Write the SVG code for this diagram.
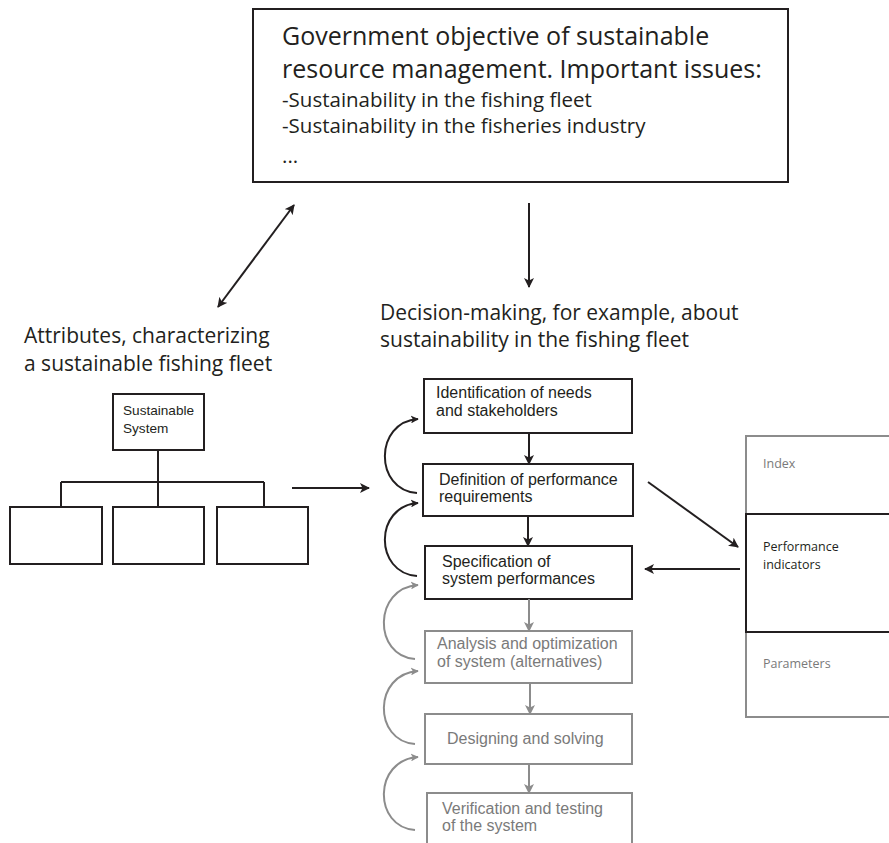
<svg xmlns="http://www.w3.org/2000/svg" width="889" height="843" viewBox="0 0 889 843">
  <style>
    .bg { fill: #ffffff; }
    .hum { font-family: "Open Sans", "Noto Sans", sans-serif; fill: #231f20; }
    .hel { font-family: "Liberation Sans", Arial, sans-serif; fill: #231f20; }
    .box { fill: #ffffff; stroke: #231f20; stroke-width: 2; }
    .gbox { fill: #ffffff; stroke: #8c8c8c; stroke-width: 2; }
    .gtxt { fill: #7a7a7a; }
    .ln { fill: none; stroke: #231f20; stroke-width: 2; }
    .gln { fill: none; stroke: #8c8c8c; stroke-width: 2; }
  </style>
  <defs>
    <marker id="ah" viewBox="0 0 10 10" refX="9" refY="5" markerWidth="10" markerHeight="10" markerUnits="userSpaceOnUse" orient="auto-start-reverse">
      <path d="M0,0 L10,5 L0,10 L2.5,5 Z" fill="#231f20"/>
    </marker>
    <marker id="ahs" viewBox="0 0 10 10" refX="9" refY="5" markerWidth="8" markerHeight="8" markerUnits="userSpaceOnUse" orient="auto">
      <path d="M0,0 L10,5 L0,10 L2.5,5 Z" fill="#231f20"/>
    </marker>
    <marker id="ahg" viewBox="0 0 10 10" refX="9" refY="5" markerWidth="10" markerHeight="10" markerUnits="userSpaceOnUse" orient="auto">
      <path d="M0,0 L10,5 L0,10 L2.5,5 Z" fill="#8c8c8c"/>
    </marker>
    <marker id="ahgs" viewBox="0 0 10 10" refX="9" refY="5" markerWidth="8" markerHeight="8" markerUnits="userSpaceOnUse" orient="auto">
      <path d="M0,0 L10,5 L0,10 L2.5,5 Z" fill="#8c8c8c"/>
    </marker>
  </defs>
  <rect class="bg" x="0" y="0" width="889" height="843"/>

  <!-- Government objective -->
  <g id="objective">
    <rect class="box" x="253" y="9" width="535" height="173"/>
    <text class="hum" font-size="25" x="282" y="45">Government objective of sustainable</text>
    <text class="hum" font-size="25" x="282" y="78">resource management. Important issues:</text>
    <text class="hum" font-size="20.5" x="282" y="107">-Sustainability in the fishing fleet</text>
    <text class="hum" font-size="20.5" x="282" y="133">-Sustainability in the fisheries industry</text>
    <text class="hum" font-size="20.5" x="282" y="163">...</text>
  </g>

  <!-- Attributes label -->
  <g id="attributes-label">
    <text class="hum" font-size="21" x="24" y="343">Attributes, characterizing</text>
    <text class="hum" font-size="21" x="24" y="371">a sustainable fishing fleet</text>
  </g>

  <!-- Decision-making label -->
  <g id="decision-label">
    <text class="hum" font-size="21" x="380" y="320">Decision-making, for example, about</text>
    <text class="hum" font-size="21" x="380" y="347">sustainability in the fishing fleet</text>
  </g>

  <!-- Attribute tree -->
  <g id="tree">
    <rect class="box" x="113" y="394" width="91" height="56"/>
    <text class="hel" font-size="13.6" x="123" y="415">Sustainable</text>
    <text class="hel" font-size="13.6" x="123" y="433">System</text>
    <path class="ln" d="M158,450 V482 M61,482 H264 M61,482 V507 M158,482 V507 M264,482 V507"/>
    <rect class="box" x="10" y="507" width="92" height="57"/>
    <rect class="box" x="113" y="507" width="91" height="57"/>
    <rect class="box" x="217" y="507" width="91" height="57"/>
  </g>

  <!-- Process steps -->
  <g id="step-needs">
    <rect class="box" x="424" y="379" width="208" height="54"/>
    <text class="hel" font-size="16" x="436" y="398">Identification of needs</text>
    <text class="hel" font-size="16" x="436" y="416">and stakeholders</text>
  </g>
  <g id="step-requirements">
    <rect class="box" x="423" y="464" width="210" height="52"/>
    <text class="hel" font-size="16" x="439" y="485">Definition of performance</text>
    <text class="hel" font-size="16" x="439" y="502">requirements</text>
  </g>
  <g id="step-specification">
    <rect class="box" x="425" y="546" width="207" height="53"/>
    <text class="hel" font-size="16" x="442" y="567">Specification of</text>
    <text class="hel" font-size="16" x="442" y="584">system performances</text>
  </g>
  <g id="step-analysis">
    <rect class="gbox" x="425" y="631" width="207" height="52"/>
    <text class="hel gtxt" font-size="16" x="437" y="649">Analysis and optimization</text>
    <text class="hel gtxt" font-size="16" x="437" y="667">of system (alternatives)</text>
  </g>
  <g id="step-designing">
    <rect class="gbox" x="425" y="714" width="207" height="50"/>
    <text class="hel gtxt" font-size="16" x="447" y="744">Designing and solving</text>
  </g>
  <g id="step-verification">
    <rect class="gbox" x="427" y="793" width="205" height="60"/>
    <text class="hel gtxt" font-size="16" x="442" y="814">Verification and testing</text>
    <text class="hel gtxt" font-size="16" x="442" y="831">of the system</text>
  </g>

  <!-- Indicator hierarchy panel -->
  <g id="indicator-panel">
    <path class="gln" d="M889,436 H746 V514"/>
    <path class="gln" d="M746,632 V717 H889"/>
    <path class="ln" d="M889,514 H746 V632 H889"/>
    <text class="hum gtxt" font-size="12.5" x="763" y="468">Index</text>
    <text class="hum" font-size="12.5" x="763" y="551">Performance</text>
    <text class="hum" font-size="12.5" x="763" y="569">indicators</text>
    <text class="hum gtxt" font-size="12.5" x="763" y="668">Parameters</text>
  </g>

  <!-- Connectors -->
  <g id="connectors">
    <line class="ln" x1="218" y1="307" x2="294" y2="205" marker-start="url(#ah)" marker-end="url(#ah)"/>
    <line class="ln" x1="529" y1="203" x2="529" y2="287" marker-end="url(#ah)"/>
    <line class="ln" x1="292" y1="488" x2="369" y2="488" marker-end="url(#ah)"/>
    <line class="ln" x1="529" y1="433" x2="529" y2="464" marker-end="url(#ah)"/>
    <line class="ln" x1="528" y1="516" x2="528" y2="546" marker-end="url(#ah)"/>
    <line class="gln" x1="529" y1="599" x2="529" y2="631" marker-end="url(#ahg)"/>
    <line class="gln" x1="530" y1="683" x2="530" y2="714" marker-end="url(#ahg)"/>
    <line class="gln" x1="529" y1="764" x2="529" y2="793" marker-end="url(#ahg)"/>
    <line class="ln" x1="648" y1="482" x2="738" y2="547" marker-end="url(#ah)"/>
    <line class="ln" x1="740" y1="569" x2="645" y2="569" marker-end="url(#ah)"/>
    <!-- feedback loops -->
    <path class="ln" d="M417,493 C374,490 374,422 418,419" marker-end="url(#ahs)"/>
    <path class="ln" d="M417,576 C374,573 374,506 418,503" marker-end="url(#ahs)"/>
    <path class="gln" d="M415,659 C373,656 373,588 418,585" marker-end="url(#ahgs)"/>
    <path class="gln" d="M415,744 C373,741 373,674 418,671" marker-end="url(#ahgs)"/>
    <path class="gln" d="M415,830 C373,827 373,760 418,757" marker-end="url(#ahgs)"/>
  </g>
</svg>
